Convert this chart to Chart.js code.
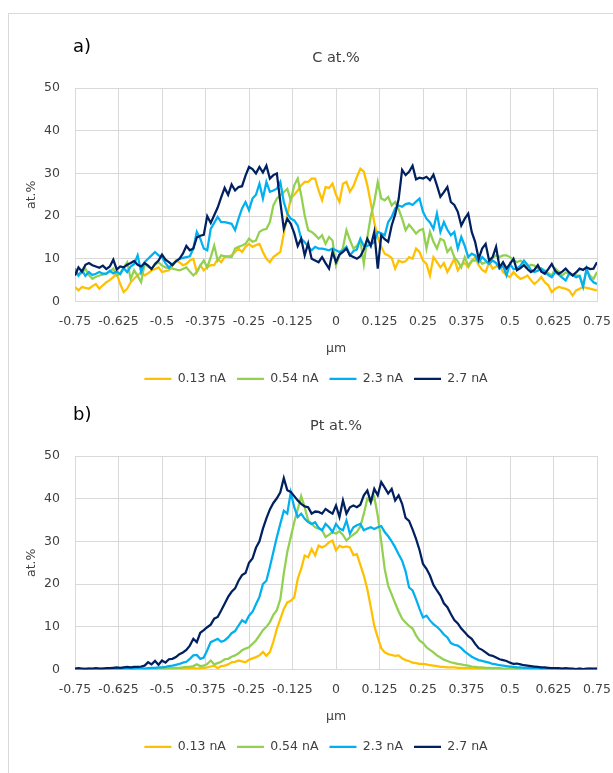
<!DOCTYPE html>
<html>
<head>
<meta charset="utf-8">
<title>C and Pt profiles</title>
<script src="https://cdn.jsdelivr.net/npm/chart.js@4.4.1/dist/chart.umd.min.js"></script>
<style>
html, body { margin: 0; padding: 0; background: #fff; overflow: hidden; }
body { width: 613px; height: 773px; position: relative; font-family: "DejaVu Sans", sans-serif; }
#frame { position: absolute; left: 8px; top: 13px; width: 660px; height: 820px; border: 1px solid #d9d9d9; box-sizing: border-box; }
canvas { position: absolute; left: 8px; }
.tag { position: absolute; left: 73px; font-size: 18px; line-height: 20px; color: #000; }
</style>
</head>
<body>
<div id="frame"></div>
<canvas id="chart_C" width="616" height="395" style="top:0px"></canvas>
<canvas id="chart_Pt" width="616" height="395" style="top:368px"></canvas>
<div class="tag" style="top:36px">a)</div>
<div class="tag" style="top:404px">b)</div>
<script>
// sample positions: -0.75 µm to 0.75 µm, one value every 0.01 µm
var startX = -0.75;
var stepX = 0.01;

var seriesNames = ['0.13 nA', '0.54 nA', '2.3 nA', '2.7 nA'];
var seriesColors = ['#FFC000', '#92D050', '#00B0F0', '#002060'];

// C at.%  (10 values per row)
var c013 = [
    3.4, 2.6, 3.4, 3.2, 3.0, 3.6, 4.1, 3.0, 3.8, 4.5,
    5.0, 5.7, 6.5, 4.1, 2.2, 3.0, 4.5, 5.4, 6.1, 6.9,
    6.1, 6.6, 7.3, 7.6, 8.0, 6.9, 7.1, 7.3, 8.4, 9.6,
    9.2, 8.5, 8.8, 9.6, 10.0, 6.9, 8.5, 7.3, 8.0, 8.5,
    8.5, 10.0, 9.2, 10.4, 10.6, 10.8, 11.6, 12.4, 11.6, 12.8,
    13.5, 12.8, 13.2, 13.5, 11.6, 10.0, 9.2, 10.4, 11.0, 11.6,
    15.9, 20.2, 24.1, 25.0, 26.0, 27.2, 28.0, 28.0, 28.8, 28.8,
    26.0, 23.7, 26.8, 26.6, 27.6, 25.0, 23.3, 27.6, 28.0, 25.7,
    27.0, 29.2, 31.1, 30.4, 27.2, 23.0, 18.5, 15.0, 12.8, 11.2,
    10.8, 10.2, 7.7, 9.6, 9.2, 9.4, 10.4, 10.0, 12.4, 11.6,
    9.6, 8.8, 6.1, 10.4, 9.2, 8.0, 9.0, 6.9, 8.4, 10.0,
    7.3, 8.6, 9.0, 8.0, 9.4, 10.4, 8.5, 7.4, 6.9, 9.2,
    7.7, 8.2, 8.5, 6.9, 6.2, 5.7, 6.9, 6.0, 5.3, 5.6,
    6.1, 5.0, 4.1, 4.8, 5.7, 4.5, 3.8, 2.2, 3.0, 3.4,
    3.2, 3.0, 2.6, 1.4, 2.6, 3.0, 3.4, 3.2, 3.0, 2.8,
    2.6
];
var c054 = [
    7.3, 6.1, 6.8, 7.7, 6.2, 5.3, 5.8, 6.1, 6.3, 6.5,
    7.0, 7.7, 6.1, 6.6, 8.0, 9.2, 5.3, 7.3, 6.0, 4.5,
    8.8, 8.2, 7.7, 8.6, 9.2, 8.4, 8.0, 7.8, 7.7, 7.5,
    7.3, 7.6, 8.0, 7.0, 6.1, 6.9, 8.4, 9.6, 8.0, 10.4,
    13.1, 9.6, 10.8, 10.6, 10.5, 10.4, 12.4, 12.8, 13.1, 13.5,
    14.7, 14.0, 14.3, 16.3, 16.8, 17.0, 18.6, 22.5, 24.1, 24.9,
    25.6, 26.4, 23.7, 27.2, 28.8, 24.9, 20.2, 16.7, 16.3, 15.6,
    14.7, 15.5, 13.5, 15.1, 14.3, 8.5, 10.8, 12.6, 16.7, 14.4,
    12.4, 13.0, 14.4, 8.8, 15.0, 20.0, 23.3, 28.0, 24.1, 23.7,
    24.5, 22.5, 23.3, 21.6, 19.4, 16.7, 18.0, 17.0, 15.9, 16.7,
    17.0, 12.4, 16.3, 14.0, 12.4, 14.7, 14.3, 11.6, 12.6, 10.4,
    9.4, 8.0, 10.4, 8.4, 9.6, 9.6, 10.0, 8.8, 9.2, 9.0,
    10.2, 10.8, 10.4, 10.8, 10.8, 10.4, 9.8, 9.2, 9.6, 8.8,
    8.0, 8.6, 8.4, 7.7, 7.7, 7.3, 6.6, 6.1, 7.7, 7.0,
    6.1, 6.8, 6.5, 6.2, 6.1, 6.0, 3.8, 7.3, 6.0, 5.3,
    6.9
];
var c23 = [
    7.7, 6.1, 7.3, 6.0, 6.9, 6.2, 6.5, 6.9, 6.5, 6.5,
    7.2, 6.6, 7.0, 6.4, 7.8, 6.9, 8.2, 8.8, 10.8, 6.9,
    9.2, 10.0, 10.8, 11.6, 10.8, 10.4, 9.0, 7.9, 8.8, 9.4,
    10.0, 10.2, 10.4, 10.6, 12.4, 16.3, 14.7, 12.4, 12.0, 17.0,
    18.4, 19.8, 18.6, 18.6, 18.4, 18.2, 16.7, 19.4, 21.8, 23.3,
    21.4, 24.1, 25.0, 27.6, 24.1, 28.0, 25.7, 26.0, 26.4, 28.0,
    23.3, 20.6, 19.4, 19.0, 17.8, 14.7, 13.9, 12.8, 12.0, 12.8,
    12.4, 12.4, 12.2, 12.0, 12.4, 12.0, 11.6, 12.0, 12.8, 10.8,
    11.8, 12.2, 14.7, 13.0, 13.0, 13.4, 13.9, 16.3, 16.0, 15.5,
    18.6, 19.8, 21.8, 22.5, 22.2, 22.8, 23.0, 22.6, 23.4, 24.1,
    21.0, 19.4, 18.5, 17.0, 20.6, 16.3, 18.6, 16.8, 15.5, 16.3,
    12.4, 15.1, 13.0, 10.4, 11.2, 10.8, 9.2, 10.4, 9.6, 8.8,
    9.6, 9.0, 7.7, 8.4, 6.1, 8.8, 7.6, 7.7, 8.4, 9.6,
    8.6, 7.4, 6.9, 7.2, 7.7, 7.0, 6.2, 5.7, 6.9, 6.3,
    5.6, 4.9, 6.5, 6.2, 5.7, 6.0, 3.4, 7.7, 5.4, 4.5,
    4.1
];
var c27 = [
    6.1, 8.0, 7.0, 8.6, 9.0, 8.5, 8.2, 7.9, 8.4, 7.6,
    8.2, 9.8, 7.5, 8.2, 8.0, 8.6, 9.0, 9.5, 8.6, 8.2,
    9.0, 8.4, 7.6, 8.8, 9.6, 11.0, 9.8, 9.2, 8.5, 9.4,
    10.0, 11.2, 13.0, 12.0, 12.4, 15.0, 15.4, 15.6, 20.0, 18.4,
    20.2, 22.0, 24.4, 26.6, 25.0, 27.4, 26.0, 26.8, 27.0, 29.5,
    31.5, 31.0, 30.0, 31.5, 30.2, 31.8, 28.8, 29.6, 30.0, 23.3,
    17.0, 19.4, 18.2, 16.0, 13.0, 14.7, 10.8, 13.6, 10.0, 9.6,
    9.2, 10.4, 9.0, 7.7, 11.6, 9.2, 11.0, 11.6, 12.4, 10.8,
    10.4, 10.0, 10.6, 12.2, 14.7, 13.0, 16.3, 7.7, 15.5, 14.6,
    14.0, 17.8, 20.4, 24.0, 30.8, 29.6, 30.4, 31.8, 28.6, 29.0,
    28.8, 29.2, 28.4, 29.7, 27.2, 24.5, 25.6, 26.8, 23.3, 22.6,
    21.0, 17.8, 19.4, 20.6, 16.3, 13.9, 10.0, 12.4, 13.5, 9.6,
    10.4, 12.8, 8.0, 9.2, 7.7, 8.8, 10.0, 7.3, 7.8, 8.5,
    7.6, 6.9, 7.4, 8.5, 7.0, 6.5, 7.6, 8.8, 7.2, 6.5,
    7.0, 7.7, 6.8, 6.1, 6.8, 7.7, 7.4, 8.0, 7.6, 7.7,
    9.2
];

// Pt at.%
var pt013 = [
    0.1, 0.1, 0.0, 0.1, 0.1, 0.0, 0.1, 0.1, 0.0, 0.1,
    0.1, 0.0, 0.1, 0.1, 0.1, 0.0, 0.1, 0.1, 0.1, 0.0,
    0.1, 0.1, 0.0, 0.1, 0.1, 0.1, 0.1, 0.1, 0.2, 0.1,
    0.2, 0.1, 0.2, 0.2, 0.3, 0.2, 0.3, 0.4, 0.5, 0.7,
    0.9, 0.3, 0.8, 0.9, 1.2, 1.7, 1.8, 2.1, 1.9, 1.7,
    2.3, 2.6, 2.9, 3.3, 4.1, 3.2, 4.1, 6.5, 9.5, 11.8,
    14.2, 15.7, 16.1, 16.9, 21.2, 23.6, 26.7, 26.3, 28.2, 26.7,
    29.0, 28.6, 29.0, 29.8, 30.2, 27.9, 29.0, 28.6, 28.8, 28.6,
    26.8, 27.0, 24.5, 22.0, 18.8, 14.6, 10.2, 7.5, 5.0, 4.0,
    3.6, 3.4, 3.2, 3.3, 2.6, 2.2, 2.0, 1.6, 1.5, 1.3,
    1.3, 1.2, 1.0, 0.9, 0.8, 0.6, 0.6, 0.5, 0.5, 0.5,
    0.4, 0.4, 0.3, 0.3, 0.3, 0.2, 0.2, 0.2, 0.1, 0.1,
    0.1, 0.1, 0.1, 0.1, 0.1, 0.0, 0.1, 0.1, 0.0, 0.1,
    0.1, 0.1, 0.0, 0.1, 0.1, 0.0, 0.1, 0.0, 0.1, 0.1,
    0.0, 0.1, 0.1, 0.0, 0.1, 0.1, 0.0, 0.1, 0.1, 0.0,
    0.1
];
var pt054 = [
    0.2, 0.1, 0.1, 0.2, 0.3, 0.1, 0.1, 0.2, 0.1, 0.1,
    0.1, 0.1, 0.2, 0.1, 0.1, 0.1, 0.2, 0.1, 0.1, 0.2,
    0.1, 0.2, 0.1, 0.2, 0.2, 0.3, 0.2, 0.3, 0.3, 0.4,
    0.4, 0.5, 0.6, 0.6, 0.8, 1.2, 0.8, 0.9, 1.3, 2.1,
    1.2, 1.5, 1.8, 2.4, 2.5, 3.0, 3.3, 3.8, 4.5, 4.9,
    5.2, 6.0, 6.8, 8.0, 9.2, 10.0, 11.1, 12.8, 13.9, 16.5,
    22.5, 27.5, 31.0, 34.5, 37.5, 40.6, 38.0, 34.9, 34.1, 33.3,
    33.0, 32.6, 31.0, 31.6, 32.2, 31.8, 32.4, 31.5, 30.2, 31.0,
    31.6, 32.2, 33.5, 36.5, 40.0, 39.2, 40.4, 36.0, 30.0, 23.5,
    19.6, 17.6, 15.5, 13.6, 11.9, 11.0, 10.2, 9.6, 8.0, 6.8,
    6.2, 5.2, 4.6, 4.0, 3.3, 2.8, 2.3, 2.0, 1.7, 1.5,
    1.3, 1.2, 1.0, 0.9, 0.7, 0.6, 0.5, 0.5, 0.4, 0.4,
    0.3, 0.3, 0.3, 0.2, 0.2, 0.2, 0.2, 0.1, 0.2, 0.1,
    0.1, 0.2, 0.1, 0.1, 0.1, 0.1, 0.1, 0.1, 0.1, 0.1,
    0.1, 0.1, 0.1, 0.0, 0.1, 0.1, 0.1, 0.1, 0.1, 0.1,
    0.1
];
var pt23 = [
    0.1, 0.2, 0.1, 0.2, 0.1, 0.1, 0.2, 0.1, 0.2, 0.1,
    0.2, 0.2, 0.1, 0.2, 0.2, 0.3, 0.2, 0.2, 0.3, 0.3,
    0.2, 0.3, 0.4, 0.4, 0.5, 0.5, 0.6, 0.8, 0.9, 1.1,
    1.3, 1.6, 1.8, 2.5, 3.3, 3.4, 2.5, 2.8, 4.5, 6.4,
    6.8, 7.2, 6.5, 6.8, 7.5, 8.5, 9.0, 10.3, 11.5, 11.0,
    12.6, 13.5, 15.3, 17.0, 20.0, 20.8, 24.0, 27.5, 31.0, 34.1,
    37.2, 36.5, 41.5, 38.0, 35.7, 36.5, 35.3, 34.5, 34.1, 34.5,
    33.2, 32.6, 34.1, 33.3, 32.2, 34.1, 33.0, 32.6, 34.9, 31.8,
    33.3, 33.8, 34.1, 32.6, 33.0, 33.3, 32.9, 33.3, 33.6, 32.2,
    31.2, 30.0, 28.6, 27.0, 25.5, 23.0, 19.2, 18.5, 16.5, 14.2,
    12.2, 12.6, 11.5, 10.6, 10.0, 9.2, 8.2, 7.5, 6.2, 5.8,
    5.6, 5.0, 4.2, 3.6, 3.0, 2.6, 2.2, 2.0, 1.8, 1.6,
    1.3, 1.2, 1.0, 0.9, 0.8, 0.7, 0.6, 0.5, 0.5, 0.4,
    0.4, 0.3, 0.3, 0.3, 0.2, 0.2, 0.2, 0.2, 0.2, 0.1,
    0.2, 0.1, 0.2, 0.1, 0.1, 0.2, 0.1, 0.1, 0.2, 0.1,
    0.2
];
var pt27 = [
    0.2, 0.3, 0.2, 0.1, 0.2, 0.2, 0.3, 0.2, 0.2, 0.3,
    0.3, 0.4, 0.5, 0.4, 0.5, 0.6, 0.5, 0.6, 0.6, 0.7,
    0.9, 1.7, 1.2, 2.0, 1.1, 2.1, 1.6, 2.4, 2.5, 2.9,
    3.6, 4.0, 4.6, 5.6, 7.2, 6.4, 8.6, 9.2, 9.9, 10.5,
    11.9, 12.3, 13.8, 15.4, 17.0, 18.2, 19.0, 20.8, 22.1, 22.6,
    25.0, 26.0, 28.5, 30.0, 33.0, 35.4, 37.5, 39.0, 40.1, 41.5,
    44.8, 42.0, 41.6, 40.6, 39.6, 38.8, 38.2, 38.0, 36.5, 37.0,
    36.9, 36.5, 37.6, 37.0, 36.5, 38.4, 35.7, 39.6, 36.5, 38.0,
    38.4, 38.0, 38.6, 40.8, 41.9, 39.2, 42.3, 40.8, 43.9, 42.6,
    41.2, 42.3, 39.6, 40.8, 38.8, 35.5, 34.8, 32.8, 30.6, 28.0,
    24.7, 23.6, 22.0, 19.8, 18.5, 17.3, 15.5, 14.6, 13.0, 11.6,
    10.8, 9.6, 8.7, 7.8, 7.2, 6.0, 5.0, 4.6, 4.0, 3.4,
    3.2, 2.8, 2.4, 2.2, 2.0, 1.6, 1.3, 1.4, 1.2, 1.0,
    0.9, 0.8, 0.7, 0.6, 0.5, 0.5, 0.4, 0.3, 0.3, 0.3,
    0.2, 0.3, 0.2, 0.2, 0.1, 0.2, 0.1, 0.2, 0.2, 0.2,
    0.2
];

var textColor = '#404040';
var gridColor = '#d9d9d9';
Chart.defaults.font.family = '"DejaVu Sans", sans-serif';

function toPoints(values) {
    return values.map(function (v, i) {
        return { x: startX + i * stepX, y: v };
    });
}

function makeChart(canvasId, titleText, seriesValues) {
    var ctx = document.getElementById(canvasId).getContext('2d');
    return new Chart(ctx, {
        type: 'line',
        data: {
            datasets: seriesValues.map(function (vals, k) {
                return {
                    label: seriesNames[k],
                    data: toPoints(vals),
                    yAxisID: 'y',
                    borderColor: seriesColors[k],
                    backgroundColor: seriesColors[k],
                    borderWidth: 2.25,
                    pointRadius: 0,
                    tension: 0,
                    // last series drawn on top, like the original
                    order: seriesValues.length - 1 - k
                };
            })
        },
        options: {
            responsive: false,
            animation: false,
            layout: { padding: 0 },
            plugins: {
                title: {
                    display: true,
                    text: titleText,
                    fullSize: false,
                    color: textColor,
                    font: { size: 14.5, weight: 'normal' },
                    padding: { top: 50, bottom: 20.6 }
                },
                legend: {
                    position: 'bottom',
                    labels: {
                        usePointStyle: true,
                        pointStyle: 'line',
                        pointStyleWidth: 27,
                        boxHeight: 14,
                        color: textColor,
                        font: { size: 12.5 },
                        padding: 11,
                        sort: function (a, b) { return a.datasetIndex - b.datasetIndex; }
                    }
                },
                tooltip: { enabled: false }
            },
            scales: {
                x: {
                    type: 'linear',
                    min: -0.75,
                    max: 0.75,
                    afterFit: function (scale) { scale.height = 60; },
                    ticks: {
                        stepSize: 0.125,
                        autoSkip: false,
                        maxRotation: 0,
                        padding: 13,
                        color: textColor,
                        font: { size: 12.5 },
                        callback: function (v) { return String(Math.round(v * 1000) / 1000); }
                    },
                    grid: { color: gridColor, drawTicks: false },
                    border: { color: gridColor },
                    title: {
                        display: true,
                        text: 'µm',
                        color: textColor,
                        font: { size: 12.5 },
                        padding: { top: 0, bottom: 5 }
                    }
                },
                y: {
                    min: 0,
                    max: 50,
                    afterFit: function (scale) { scale.width = 67; },
                    ticks: {
                        stepSize: 10,
                        padding: 15,
                        color: textColor,
                        font: { size: 12.5 }
                    },
                    grid: { color: gridColor, drawTicks: false },
                    border: { color: gridColor },
                    title: {
                        display: true,
                        text: 'at.%',
                        color: textColor,
                        font: { size: 12.5 },
                        padding: { top: 16.5, bottom: 0 }
                    }
                },
                // empty strip on the right so the legend centres on the whole frame
                yRight: {
                    position: 'right',
                    afterFit: function (scale) { scale.width = 27; },
                    ticks: { display: false },
                    grid: { display: false },
                    border: { display: false }
                }
            }
        }
    });
}

makeChart('chart_C', 'C at.%', [c013, c054, c23, c27]);
makeChart('chart_Pt', 'Pt at.%', [pt013, pt054, pt23, pt27]);
</script>
</body>
</html>
